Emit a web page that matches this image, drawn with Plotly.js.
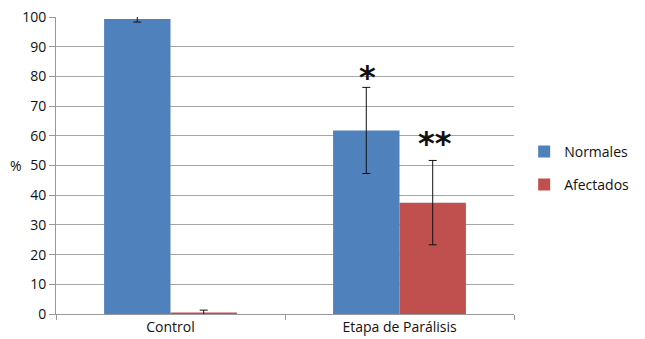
<!DOCTYPE html>
<html><head><meta charset="utf-8">
<script src="https://cdn.plot.ly/plotly-3.0.1.min.js"></script>
<style>html,body{margin:0;padding:0;background:#fff;}#chart{width:645px;height:339px;}</style>
</head><body><div id="chart"></div>
<script>
const categories = ["Control", "Etapa de Parálisis"];
const normales = [99.3, 61.8];
const normalesErr = [1.0, 14.5];
const afectados = [0.5, 37.5];
const afectadosErr = [0.8, 14.2];
const significance = [
  {x: "Etapa de Parálisis", y: 81, text: "*", series: "Normales"},
  {x: "Etapa de Parálisis", y: 59, text: "**", series: "Afectados"}
];
const yTicks = [0,10,20,30,40,50,60,70,80,90,100];

const font = "'Open Sans', 'Liberation Sans', sans-serif";
const traces = [
  {type:"bar", name:"Normales", x:categories, y:normales, legendgroup:"a",
   marker:{color:"#4F81BD", line:{width:0}},
   error_y:{type:"data", array:normalesErr, visible:true, color:"#111", thickness:1, width:4},
   offsetgroup:"n"},
  {type:"bar", name:"Afectados", x:categories, y:afectados, legendgroup:"b",
   marker:{color:"#C0504D", line:{width:0}},
   error_y:{type:"data", array:afectadosErr, visible:true, color:"#111", thickness:1, width:4},
   offsetgroup:"f"}
];
const layout = {
  width:645, height:339,
  margin:{l:56, r:130, t:17, b:25},
  paper_bgcolor:"#fff", plot_bgcolor:"#fff",
  font:{family:font, size:14, color:"#111"},
  barmode:"group", bargap:0.42, bargroupgap:0,
  showlegend:true,
  legend:{x:1.02, y:0.6, xanchor:"left", yanchor:"top", traceorder:"grouped", tracegroupgap:12,
          font:{family:font, size:14, color:"#111"}, bgcolor:"rgba(0,0,0,0)"},
  xaxis:{type:"category", tickson:"boundaries", ticks:"outside", ticklen:5, tickcolor:"#999",
         showline:true, linecolor:"#999", linewidth:1, showgrid:false,
         tickfont:{family:font, size:14, color:"#111"}},
  yaxis:{range:[0,100], tickvals:yTicks, ticktext:yTicks.map(String), ticks:"outside", ticklen:6, tickcolor:"#999",
         showline:true, linecolor:"#999", linewidth:1, showgrid:true, gridcolor:"#a6a6a6", gridwidth:1,
         zeroline:false, tickfont:{family:font, size:14, color:"#111"}},
  annotations: [
    {xref:"paper", yref:"paper", x:-0.087, y:0.5, text:"%", showarrow:false, xanchor:"center", yanchor:"middle",
     font:{family:font, size:14, color:"#111"}}
  ].concat(significance.map(s => ({
    x:s.x, y:s.y, text:"<b>" + s.text + "</b>", showarrow:false, xref:"x", yref:"y",
    xshift: s.series === "Normales" ? -32 : 35, yshift: -4,
    font:{family:"'DejaVu Sans', sans-serif", size:32, color:"#111", weight:"bold"}
  })))
};
Plotly.newPlot("chart", traces, layout, {displayModeBar:false, staticPlot:true});
</script></body></html>
